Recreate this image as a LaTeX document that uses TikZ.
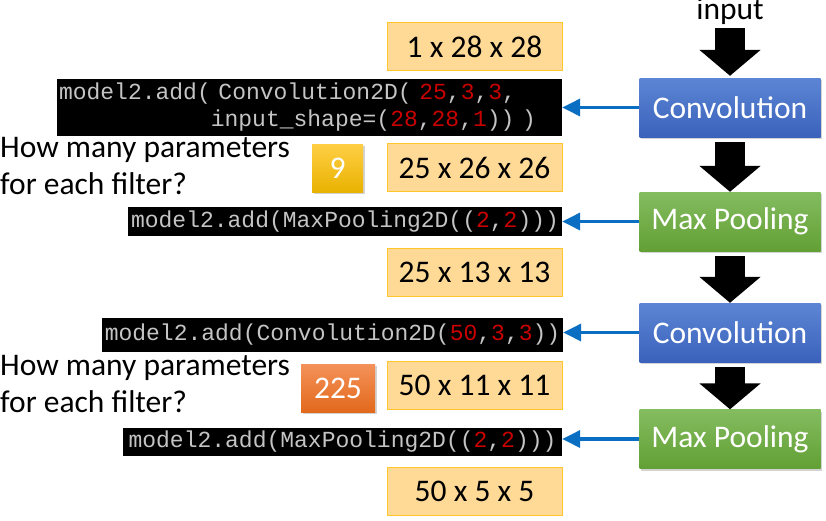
\documentclass[tikz,border=0pt]{standalone}
\usepackage{fontspec}
\setmainfont{Carlito}
\setmonofont{Liberation Mono}
\usetikzlibrary{arrows.meta,shadows,positioning}

\definecolor{convtop}{HTML}{5C86D4}
\definecolor{convbot}{HTML}{3A62BC}
\definecolor{pooltop}{HTML}{84BC60}
\definecolor{poolbot}{HTML}{62A034}
\definecolor{shapefill}{HTML}{FFDA96}
\definecolor{shapeline}{HTML}{FFC62E}
\definecolor{codegray}{HTML}{C4C4C4}
\definecolor{codered}{HTML}{C80000}
\definecolor{linkblue}{HTML}{0A6FC2}
\definecolor{goldtop}{HTML}{FFCF45}
\definecolor{goldbot}{HTML}{E9B200}
\definecolor{orangetop}{HTML}{F4925A}
\definecolor{orangebot}{HTML}{E2691C}

\newcommand{\redval}[1]{\textcolor{codered}{#1}}

\tikzset{
  bigfont/.style={font=\fontsize{31.5}{37}\selectfont},
  layer/.style={bigfont, text=white, minimum width=181pt, minimum height=59pt,
    drop shadow={shadow xshift=1.5pt, shadow yshift=-2pt, opacity=0.35}},
  conv/.style={layer, top color=convtop, bottom color=convbot},
  pool/.style={layer, top color=pooltop, bottom color=poolbot},
  shapebox/.style={bigfont, draw=shapeline, line width=1pt, fill=shapefill,
    minimum width=175pt, minimum height=48pt},
  codebox/.style={fill=black, text=codegray, font=\fontsize{23}{27}\ttfamily, inner sep=0pt},
  badge/.style={bigfont, text=white, minimum height=48pt,
    drop shadow={shadow xshift=1.5pt, shadow yshift=-2pt, opacity=0.35}},
  question/.style={bigfont, align=left, inner sep=0pt, anchor=north west},
  blockarrow/.style={line width=30pt, shorten <=5pt, -{Triangle[length=26pt,width=60pt]}},
  codearrow/.style={draw=linkblue, line width=3.5pt, -{Triangle[length=18pt,width=17pt]}}
}

\begin{document}
\begin{tikzpicture}[x=1pt, y=-1pt]
  \useasboundingbox (0,0) rectangle (826,520) ;
  % network layers
  \node[bigfont, anchor=base] (input) at (730,19) {input} ;
  \node[conv] (conv1) at (730,107.5) {Convolution} ;
  \node[pool] (pool1) at (730,221.5) {Max Pooling} ;
  \node[conv] (conv2) at (730,332.5) {Convolution} ;
  \node[pool] (pool2) at (730,439) {Max Pooling} ;
  % output shapes
  \node[shapebox] (s1) at (474.5,46.5) {1 x 28 x 28} ;
  \node[shapebox] (s2) at (474.5,167.5) {25 x 26 x 26} ;
  \node[shapebox] (s3) at (474.5,272) {25 x 13 x 13} ;
  \node[shapebox] (s4) at (474.5,385) {50 x 11 x 11} ;
  \node[shapebox] (s5) at (474.5,491.5) {50 x 5 x 5} ;
  % keras code
  \node[codebox, minimum width=505pt, minimum height=57pt, text width=501pt, align=left] (code1) at (309.5,107.5)
    {model2.add( Convolution2D( \redval{25},\redval{3},\redval{3},\\\phantom{model2.add(}input\_shape=(\redval{28},\redval{28},\redval{1})) )} ;
  \node[codebox, minimum width=434pt, minimum height=29pt] (code2) at (345,221.5)
    {model2.add(MaxPooling2D((\redval{2},\redval{2})))} ;
  \node[codebox, minimum width=461pt, minimum height=34pt] (code3) at (332.5,335)
    {model2.add(Convolution2D(\redval{50},\redval{3},\redval{3}))} ;
  \node[codebox, minimum width=439pt, minimum height=28pt] (code4) at (342.5,441.5)
    {model2.add(MaxPooling2D((\redval{2},\redval{2})))} ;
  % questions
  \node[question] (q1) at (0,137) {How many parameters\\for each filter?} ;
  \node[badge, minimum width=51pt, top color=goldtop, bottom color=goldbot] (ans1) at (337.5,168) {9} ;
  \node[question] (q2) at (0,355) {How many parameters\\for each filter?} ;
  \node[badge, minimum width=74pt, top color=orangetop, bottom color=orangebot] (ans2) at (338,388) {225} ;
  % arrows
  \draw[blockarrow, shorten <=0pt, shorten >=2pt] (input) -- (conv1) ;
  \draw[blockarrow] (conv1) -- (pool1) ;
  \draw[blockarrow] (pool1) -- (conv2) ;
  \draw[blockarrow] (conv2) -- (pool2) ;
  \draw[codearrow] (conv1.west) -- (conv1.west -| code1.east) ;
  \draw[codearrow] (pool1.west) -- (pool1.west -| code2.east) ;
  \draw[codearrow] (conv2.west) -- (conv2.west -| code3.east) ;
  \draw[codearrow] (pool2.west) -- (pool2.west -| code4.east) ;
\end{tikzpicture}
\end{document}
